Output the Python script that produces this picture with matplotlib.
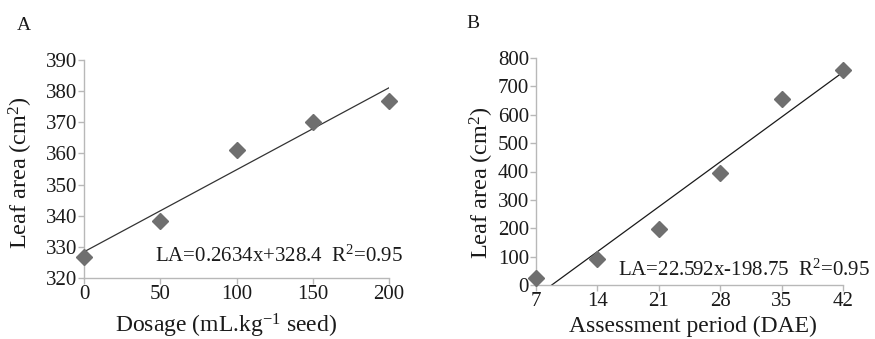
import numpy as np
import matplotlib
matplotlib.use("Agg")
import matplotlib.pyplot as plt

FONT = 'Liberation Serif'
plt.rcParams['font.family'] = FONT
plt.rcParams['mathtext.fontset'] = 'custom'
plt.rcParams['mathtext.rm'] = FONT
plt.rcParams['mathtext.it'] = FONT + ':italic'

# panel A: dosage
dose = [0, 50, 100, 150, 200]
la_dose = [326.8, 338.4, 361.1, 370.0, 376.8]
slope_a, icpt_a = 0.2634, 328.4

# panel B: assessment period
dae = [7, 14, 21, 28, 35, 42]
la_dae = [26, 93, 199, 394, 654, 757]
slope_b, icpt_b = 22.592, -198.75

W, H = 875, 339
fig = plt.figure(figsize=(W / 100, H / 100), dpi=100)

def box(x0, x1, y0, y1):
    return [x0 / W, 1 - y1 / H, (x1 - x0) / W, (y1 - y0) / H]

def fy(y):
    return 1 - y / H

mk = dict(marker='D', color='#6f6f6f', markersize=8, linestyle='none', clip_on=False, zorder=3)
gray = '#b8b8b8'
ink = '#1a1a1a'

def style(ax):
    for s in ['top', 'right']:
        ax.spines[s].set_visible(False)
    for s in ['left', 'bottom']:
        ax.spines[s].set_color(gray)
        ax.spines[s].set_linewidth(1.0)
    ax.tick_params(colors=gray, labelcolor=ink, labelsize=15, length=4, width=1, pad=1)
    for lab in ax.get_xticklabels() + ax.get_yticklabels():
        lab.set_family(FONT)

def txt(x, y, s, size, **kw):
    fig.text(x / W, fy(y), s, fontsize=size, family=FONT, color=ink, va='center', **kw)

# A
ax1 = fig.add_axes(box(84, 389, 60, 278))
xs = np.array([0, 200])
ax1.plot(xs, slope_a * xs + icpt_a, color='#333333', lw=0.9)
ax1.plot(dose, la_dose, **mk)
ax1.set_xlim(0, 200)
ax1.set_ylim(320, 390)
ax1.set_xticks(dose)
ax1.set_yticks(range(320, 391, 10))
style(ax1)
txt(155, 256, 'LA=0.2634x+328.4  R$^{2}$=0.95', 15, ha='left')

# B
ax2 = fig.add_axes(box(536, 843, 58, 285))
x0 = -icpt_b / slope_b
xs = np.array([x0, 42])
ax2.plot(xs, slope_b * xs + icpt_b, color=ink, lw=0.9)
ax2.plot(dae, la_dae, **mk)
ax2.set_xlim(7, 42)
ax2.set_ylim(0, 800)
ax2.set_xticks(dae)
ax2.set_yticks(range(0, 801, 100))
style(ax2)
txt(618, 270, 'LA=22.592x-198.75  R$^{2}$=0.95', 15, ha='left')

# labels
txt(24, 25, 'A', 14, ha='center')
txt(473, 24, 'B', 14, ha='center')
txt(21, 173, 'Leaf area (cm$^{2}$)', 17.5, ha='center', rotation=90)
txt(482, 183, 'Leaf area (cm$^{2}$)', 17.5, ha='center', rotation=90)
txt(226, 326, 'Dosage (mL.kg$^{-1}$ seed)', 17, ha='center')
txt(693, 326, 'Assessment period (DAE)', 17, ha='center')

fig.savefig('out.png', dpi=100)
